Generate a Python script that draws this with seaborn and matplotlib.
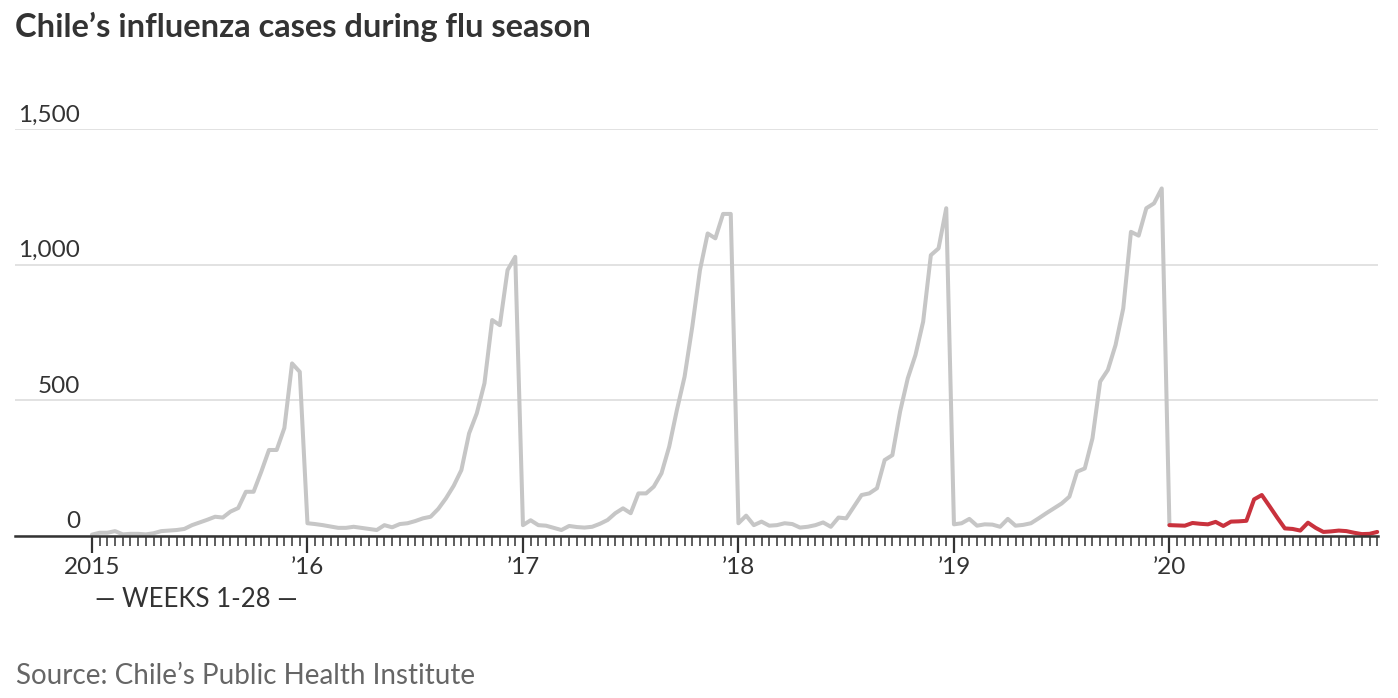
import numpy as np
import pandas as pd
import matplotlib
matplotlib.use("Agg")
import matplotlib.pyplot as plt
import seaborn as sns

# Weekly influenza cases, weeks 1-28 of each season
seasons = ["2015", "2016", "2017", "2018", "2019", "2020"]
tick_labels = ["2015", "\u201916", "\u201917", "\u201918", "\u201919", "\u201920"]

cases_2015 = [5, 12, 12, 18, 6, 8, 8, 6, 10, 18, 20, 22, 26, 40,
              50, 60, 71, 68, 90, 103, 163, 163, 237, 317, 317, 398, 636, 605]
cases_2016 = [47, 44, 40, 35, 30, 30, 34, 30, 26, 22, 40, 32, 44, 47,
              55, 65, 71, 100, 139, 185, 243, 378, 452, 563, 796, 777, 980, 1029]
cases_2017 = [40, 58, 40, 38, 30, 22, 37, 33, 31, 34, 45, 59, 84, 102,
              84, 157, 157, 182, 231, 329, 464, 587, 771, 980, 1115, 1097, 1187, 1187]
cases_2018 = [47, 75, 40, 53, 38, 40, 47, 44, 31, 34, 40, 50, 34, 68,
              65, 108, 151, 157, 176, 280, 298, 458, 581, 667, 790, 1035, 1060, 1208]
cases_2019 = [43, 47, 63, 38, 43, 42, 34, 63, 38, 41, 47, 65, 84, 102,
              120, 145, 237, 249, 360, 569, 612, 704, 839, 1121, 1107, 1208, 1226, 1281]
cases_2020 = [40, 39, 38, 48, 45, 43, 52, 37, 53, 54, 56, 135, 151, 110,
              68, 28, 26, 20, 49, 30, 15, 17, 20, 18, 12, 7, 8, 15]

WEEKS = 28
GREY = "#c6c6c6"
RED = "#c9323d"
INK = "#333333"

all_cases = [cases_2015, cases_2016, cases_2017, cases_2018, cases_2019, cases_2020]
rows = []
for s_idx, (season, vals) in enumerate(zip(seasons, all_cases)):
    for w, v in enumerate(vals):
        rows.append({"season": season, "week": w + 1, "pos": s_idx * WEEKS + w, "cases": v})
df = pd.DataFrame(rows)

# past seasons in grey (incl. the drop into the first 2020 week), 2020 in red
past = df[(df["season"] != "2020") | (df["week"] == 1)]
current = df[df["season"] == "2020"]

sns.set_style("white")
plt.rcParams["font.family"] = ["Lato", "DejaVu Sans"]

fig = plt.figure(figsize=(13.98, 6.98), dpi=100)
W, H = 1398, 698
ax = fig.add_axes([15 / W, 162 / H, 1363 / W, 407 / H])

sns.lineplot(data=past, x="pos", y="cases", ax=ax, color=GREY, linewidth=2.9,
             estimator=None, sort=False)
sns.lineplot(data=current, x="pos", y="cases", ax=ax, color=RED, linewidth=2.9,
             estimator=None, sort=False)
for ln in ax.get_lines():
    ln.set_clip_on(False)
    ln.set_solid_joinstyle("round")

n_total = WEEKS * len(seasons)
ax.set_xlim(-10, n_total - 1 + 0.1)
ax.set_ylim(0, 1500)

# axes / ticks
for side in ["top", "right", "left"]:
    ax.spines[side].set_visible(False)
ax.spines["bottom"].set_color(INK)
ax.spines["bottom"].set_linewidth(1.8)
ax.spines["bottom"].set_zorder(5)

ax.set_xticks([i * WEEKS for i in range(len(seasons))])
ax.set_xticklabels(tick_labels)
ax.set_xticks(np.arange(0, n_total), minor=True)
ax.tick_params(axis="x", which="both", bottom=True, direction="out")
ax.tick_params(axis="x", which="major", length=12, width=1.6, color=INK,
               labelsize=17.5, labelcolor=INK, pad=3)
ax.tick_params(axis="x", which="minor", length=7, width=1.1, color=INK)

yticks = [0, 500, 1000, 1500]
ax.set_yticks(yticks)
ax.set_yticklabels([])
ax.tick_params(axis="y", length=0)
ax.yaxis.grid(True, color="#e2e2e2", linewidth=1.4)
ax.set_axisbelow(True)
ax.set_xlabel("")
ax.set_ylabel("")

for v in yticks:
    ax.annotate(f"{v:,}", xy=((80 - 15) / 1363, v), xycoords=ax.get_yaxis_transform(),
                xytext=(0, 5.5), textcoords="offset points",
                ha="right", va="baseline", fontsize=17.5, color=INK)

fig.text(15 / W, 1 - 37 / H, "Chile\u2019s influenza cases during flu season",
         fontsize=23.5, fontweight="bold", color=INK, ha="left", va="baseline")
fig.text(196 / W, 1 - 607 / H, "\u2014 WEEKS 1-28 \u2014", fontsize=18.5, color=INK,
         ha="center", va="baseline")
fig.text(16 / W, 1 - 684 / H, "Source: Chile\u2019s Public Health Institute",
         fontsize=20, color="#666666", ha="left", va="baseline")

fig.savefig("out.png", dpi=100)
